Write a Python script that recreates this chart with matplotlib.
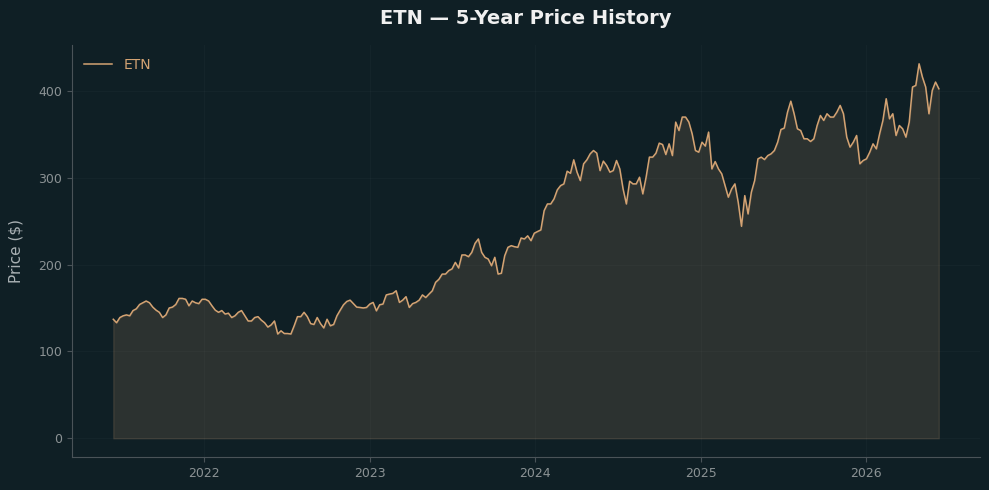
import numpy as np
import pandas as pd
import matplotlib
matplotlib.use("Agg")
import matplotlib.pyplot as plt
import matplotlib.dates as mdates

# ETN closing prices, read off the reference roughly once a week
start_date = "2021-06-14"
end_date = "2026-06-10"

prices_2021_22 = [137, 133, 139, 141, 142, 141, 147, 149, 154, 156, 158, 156, 151, 147.5,
                  145, 139, 142, 150, 151, 154, 161, 161, 160, 152.5, 158, 156, 155, 160,
                  160, 158, 152.5, 147.5, 145, 147, 143, 144, 139, 141, 145, 147, 141, 135]
prices_2022_23 = [135, 139, 140, 136, 133, 128, 130.5, 135, 120, 123.7, 120.6, 120.6, 120,
                  129.5, 140, 140, 145, 140, 132, 131, 139, 132, 127, 137, 129.5, 131, 141,
                  147.5, 153.7, 157.5, 159, 155, 151, 150.6, 150, 150.6, 154.5, 156.4, 146.7,
                  153.7, 154.5, 165, 166]
prices_2023_24 = [166.8, 169.8, 156.4, 159, 163, 150.6, 155, 156.4, 159, 165, 162, 166, 169.8,
                  179.5, 183, 189, 189, 193, 195, 202.5, 196, 211, 211, 209, 214, 224.4, 229.4,
                  214, 208.3, 206.3, 198.6, 208.3, 189, 190, 210, 219.8, 221.7, 220.5, 219.8,
                  230.5, 229.4, 233]
prices_2024_25 = [227.4, 236, 238, 239.8, 262, 269.7, 269.7, 275.5, 285.9, 290.8, 292.8, 307.4,
                  305, 320.5, 306.3, 296.6, 315.9, 320.5, 327.4, 331.2, 328.2, 308.1, 319,
                  313.9, 306.3, 308.1, 319.7, 310, 287, 269.7, 295.9, 292.8, 292.8, 300.5,
                  281.3, 300.5, 323.6, 323.6, 328.2, 339.7, 338.1, 326.6]
prices_2025 = [338.9, 325.4, 363.9, 354.2, 369.7, 369.7, 363.9, 350.4, 331.2, 329.3, 340.8,
               336.3, 352.4, 310, 318.5, 310, 304.3, 290.8, 277.5, 287, 292.8, 271.7, 244,
               279.3, 258.2, 283.2, 296.6, 321.6, 323.6, 320.8, 325.4, 327.4, 331.2, 340.8,
               355.4, 357, 375.4, 388, 373.5, 356.2, 354.2, 344.7, 344.7, 341.6]
prices_2026 = [344.7, 360, 371.5, 365.8, 373.5, 369.7, 369.7, 375.4, 383.1, 373.5, 346.6,
               335.1, 340.8, 348.5, 315.9, 319.7, 321.6, 329.3, 338.9, 333.1, 350.4, 365.8,
               390.8, 367.7, 373.5, 348.5, 360, 356.2, 346.6, 363.9, 404.3, 406.1, 431,
               415.8, 404.3, 373.5, 400.3, 410, 402.3]

prices = np.array(prices_2021_22 + prices_2022_23 + prices_2023_24
                  + prices_2024_25 + prices_2025 + prices_2026)
dates = pd.date_range(start_date, end_date, periods=len(prices))

BG = "#0f1f25"
LINE = "#d4a373"

fig = plt.figure(figsize=(9.89, 4.9), dpi=100, facecolor=BG)
ax = fig.add_axes([0.0728, 0.0673, 0.9182, 0.8407], facecolor=BG)

ax.fill_between(dates, 0, prices, color=LINE, alpha=0.15)
ax.plot(dates, prices, color=LINE, lw=1.1, label="ETN")

ax.xaxis.set_major_locator(mdates.YearLocator())
ax.xaxis.set_major_formatter(mdates.DateFormatter("%Y"))
ax.set_yticks([0, 100, 200, 300, 400])

ax.grid(True, color="#ffffff", alpha=0.022, lw=0.8)
for side in ["top", "right"]:
    ax.spines[side].set_visible(False)
for side in ["left", "bottom"]:
    ax.spines[side].set_color("#4a5358")
ax.tick_params(colors="#4a5358", labelcolor="#8b9294", labelsize=9)

ax.set_ylabel("Price ($)", color="#a9b0b3", fontsize=11, labelpad=11)
ax.set_title("ETN — 5-Year Price History", color="#f0f0f0", fontsize=14,
             fontweight="bold", pad=15)

leg = ax.legend(loc="upper left", frameon=False, fontsize=10)
for t in leg.get_texts():
    t.set_color(LINE)

fig.savefig("out.png", dpi=100, facecolor=BG)
